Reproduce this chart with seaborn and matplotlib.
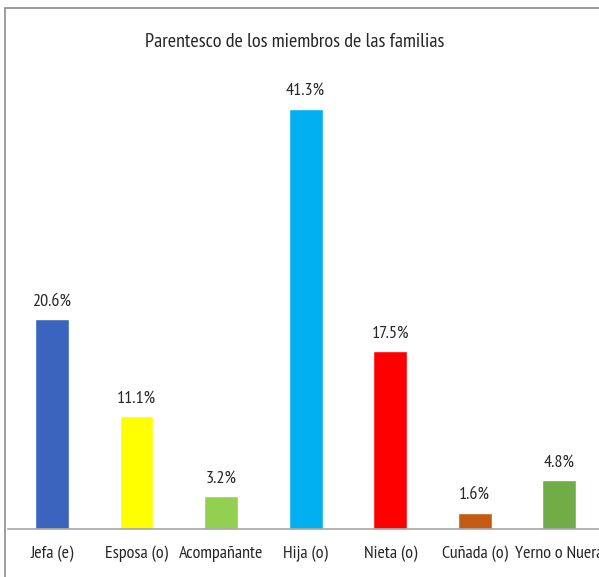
import matplotlib
matplotlib.use("Agg")
import matplotlib.pyplot as plt
import seaborn as sns
import pandas as pd
from matplotlib.lines import Line2D
from matplotlib import font_manager as fm

categories = ["Jefa (e)", "Esposa (o)", "Acompañante", "Hija (o)", "Nieta (o)", "Cuñada (o)", "Yerno o Nuera"]
values = [20.6, 11.1, 3.2, 41.3, 17.5, 1.6, 4.8]
colors = ["#3A64BD", "#FFFF00", "#92D050", "#00B0F0", "#FF0000", "#C55A11", "#70AD47"]
title = "Parentesco de los miembros de las familias"

sns.set_theme(style="white")
names = {f.name for f in fm.fontManager.ttflist}
fam = next((n for n in ["PT Sans Narrow", "Sofia Sans Condensed", "Carlito", "Cabin Condensed"]
            if n in names), "DejaVu Sans")
plt.rcParams["font.family"] = [fam, "DejaVu Sans"]

df = pd.DataFrame({"cat": categories, "val": values})

W, H = 599, 577
fig = plt.figure(figsize=(W / 100, H / 100), dpi=100)
ax = fig.add_axes([8 / W, (H - 529) / H, (W - 8) / W, 457.7 / H])

sns.barplot(data=df, x="cat", y="val", hue="cat", palette=colors, legend=False,
            width=0.40, ax=ax, saturation=1)

ax.set_xlim(-0.52, 6.47)
ax.set_ylim(0, 45)
for c in ax.containers:
    ax.bar_label(c, labels=[f"{v:.1f}%" for v in c.datavalues], padding=7,
                 fontsize=13, color="#262626")

ax.set_xlabel("")
ax.set_ylabel("")
ax.set_yticks([])
ax.tick_params(axis="x", length=0, pad=12, labelsize=13, labelcolor="#262626")
for s in ["top", "right", "left"]:
    ax.spines[s].set_visible(False)
ax.spines["bottom"].set_color("#A6A6A6")
ax.spines["bottom"].set_linewidth(1.2)
ax.patch.set_alpha(0)

fig.text(295 / W, 1 - 42 / H, title, ha="center", va="center", fontsize=14.5, color="#262626")

fig.add_artist(Line2D([5 / W, 1], [1 - 8 / H, 1 - 8 / H], color="#8C8C8C", lw=1.2, transform=fig.transFigure))
fig.add_artist(Line2D([5 / W, 5 / W], [0, 1 - 8 / H], color="#8C8C8C", lw=1.2, transform=fig.transFigure))

fig.savefig("out.png", dpi=100)
